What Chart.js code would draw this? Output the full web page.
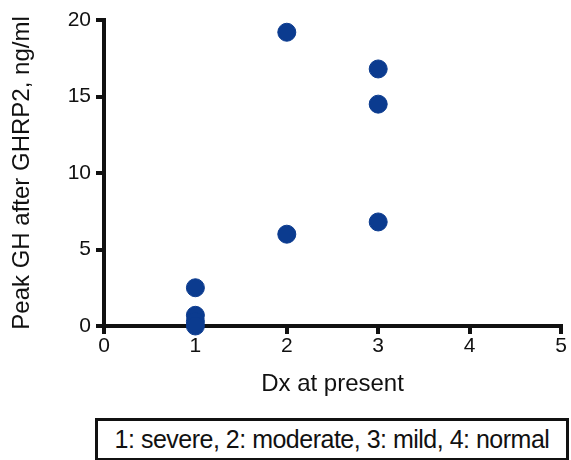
<!DOCTYPE html>
<html>
<head>
<meta charset="utf-8">
<script src="https://cdn.jsdelivr.net/npm/chart.js@4"></script>
<style>
  body { margin: 0; background: #fff; }
  #wrap { position: relative; width: 571px; height: 460px; }
  #note {
    position: absolute; left: 95px; top: 418px; width: 468px; height: 37px;
    border: 3px solid #111; box-sizing: content-box;
    font-family: "Liberation Sans", Arial, sans-serif; font-size: 25px;
    line-height: 37px; text-align: center; color: #111; white-space: nowrap;
    letter-spacing: -0.5px;
  }
</style>
</head>
<body>
<div id="wrap">
  <canvas id="chart" width="571" height="400"></canvas>
  <div id="note">1: severe, 2: moderate, 3: mild, 4: normal</div>
</div>
<script>
// Dx group for each subject and its peak GH response
const dxAtPresent = [1, 1, 1, 1, 2, 2, 3, 3, 3];
const peakGH = [2.5, 0.7, 0.3, 0.0, 19.2, 6.0, 16.8, 14.5, 6.8];
const xTicks = [0, 1, 2, 3, 4, 5];
const yTicks = [0, 5, 10, 15, 20];

const dotColor = '#0b3b8f';
const fam = '"Liberation Sans", Arial, sans-serif';
const tickFont = { family: fam, size: 21 };
const titleFont = { family: fam, size: 24 };

new Chart(document.getElementById('chart'), {
  type: 'scatter',
  data: {
    datasets: [{
      data: dxAtPresent.map((x, i) => ({ x: x, y: peakGH[i] })),
      backgroundColor: dotColor,
      borderColor: dotColor,
      pointRadius: 9,
      pointHoverRadius: 9,
      clip: false
    }]
  },
  options: {
    responsive: false,
    animation: false,
    layout: { padding: { top: 20, right: 3, left: 0, bottom: 0 } },
    plugins: { legend: { display: false }, tooltip: { enabled: false } },
    scales: {
      x: {
        type: 'linear',
        min: 0,
        max: 5,
        afterBuildTicks: s => { s.ticks = xTicks.map(v => ({ value: v })); },
        afterFit: s => { s.height = 74; },
        grid: { drawOnChartArea: false, tickLength: 8, color: '#111', lineWidth: 4 },
        border: { color: '#111', width: 4 },
        ticks: { color: '#111', font: tickFont, padding: 0 },
        title: { display: true, text: 'Dx at present', color: '#111', font: titleFont, padding: { top: 10, bottom: 1 } }
      },
      y: {
        min: 0,
        max: 20,
        afterBuildTicks: s => { s.ticks = yTicks.map(v => ({ value: v })); },
        afterFit: s => { s.width = 104; },
        grid: { drawOnChartArea: false, tickLength: 8, color: '#111', lineWidth: 4 },
        border: { color: '#111', width: 4 },
        ticks: { color: '#111', font: tickFont, padding: 5 },
        title: { display: true, text: 'Peak GH after GHRP2, ng/ml', color: '#111', font: titleFont, padding: { top: 8, bottom: 0 } }
      }
    }
  }
});
</script>
</body>
</html>
